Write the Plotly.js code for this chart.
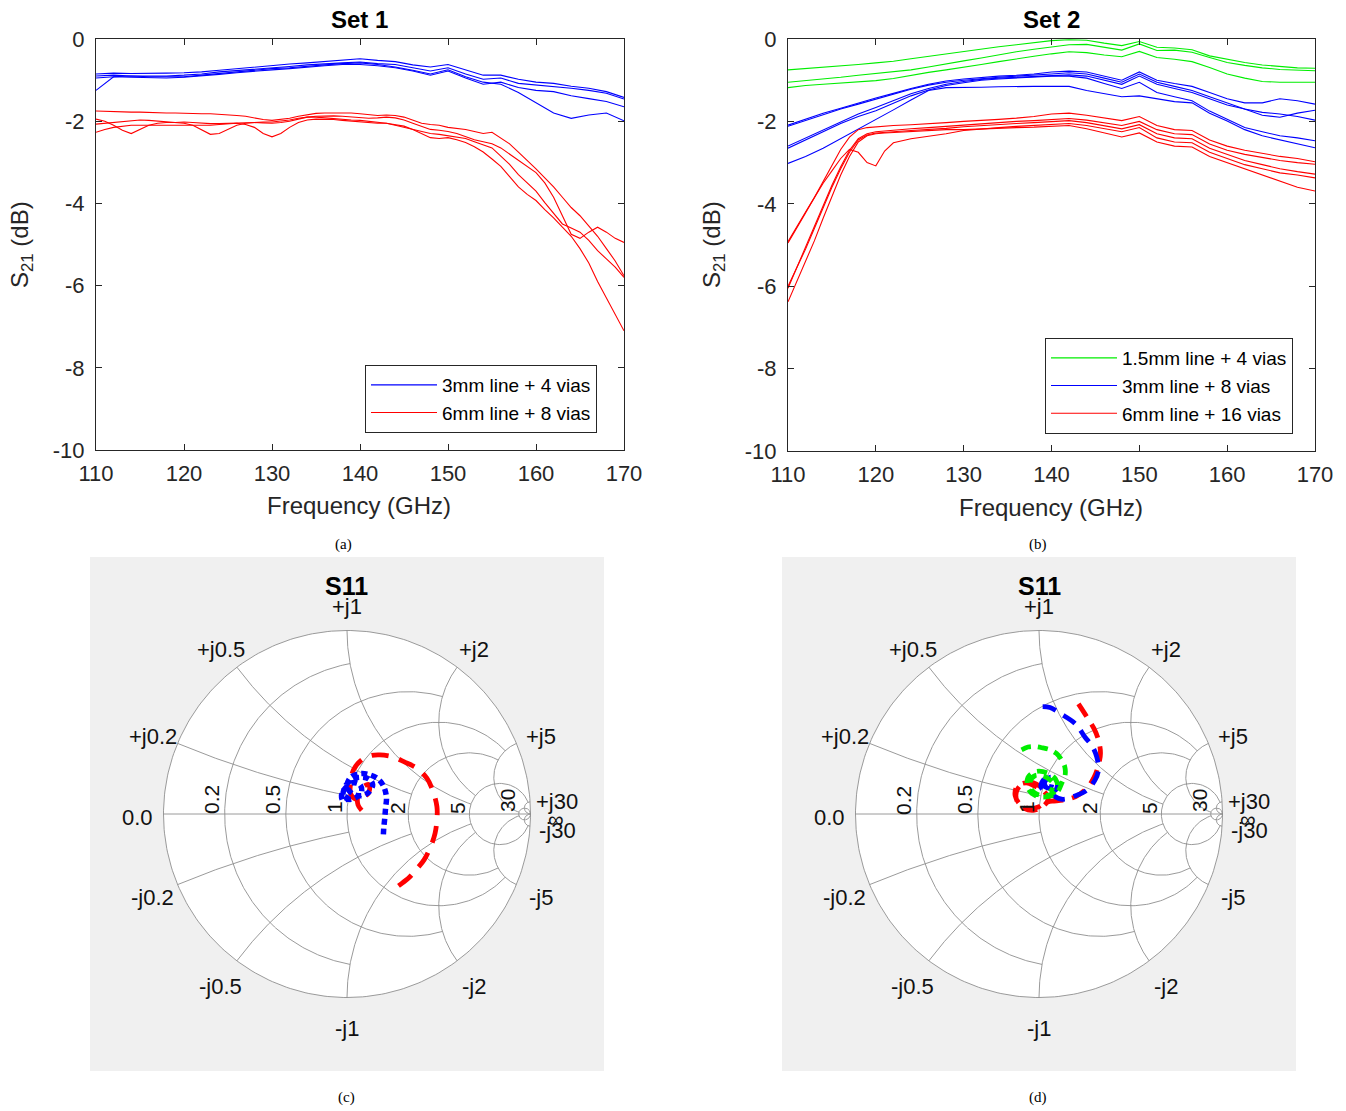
<!DOCTYPE html>
<html><head><meta charset="utf-8">
<script src="https://cdn.plot.ly/plotly-3.0.1.min.js"></script>
<style>html,body{margin:0;padding:0;background:#fff}#chart{width:1346px;height:1111px}</style>
</head><body><div id="chart"></div>
<script>
// ---------------- DATA ----------------
const freq1 = [110,111,112,113,114,115,116,117,118,119,120,121,122,123,124,125,126,127,128,129,130,131,132,133,134,135,136,137,138,139,140,141,142,143,144,145,146,147,148,149,150,151,152,153,154,155,156,157,158,159,160,161,162,163,164,165,166,167,168,169,170];
const freq2 = [110,112,114,116,118,120,122,124,126,128,130,132,134,136,138,140,142,144,146,148,150,152,154,156,158,160,162,164,166,168,170];
const freqR2 = [110,111,112,113,114,115,116,117,118,119,120,121,122,124,126,128,130,132,134,136,138,140,142,144,146,148,150,152,154,156,158,160,162,164,166,168,170];

const xTickVals = [110,120,130,140,150,160,170];
const xTickText = ['110','120','130','140','150','160','170'];
const yTickVals = [0,-2,-4,-6,-8,-10];
const yTickText = ['0','-2','-4','-6','-8','-10'];

const set1Names = ['3mm line + 4 vias','6mm line + 8 vias'];
const set2Names = ['1.5mm line + 4 vias','3mm line + 8 vias','6mm line + 16 vias'];

// Set 1, 3mm line + 4 vias (freq2)
const set1Blue = [
 [-0.85,-0.83,-0.84,-0.84,-0.83,-0.82,-0.80,-0.76,-0.72,-0.68,-0.64,-0.61,-0.58,-0.55,-0.52,-0.48,-0.52,-0.55,-0.63,-0.68,-0.62,-0.75,-0.88,-0.88,-0.98,-1.05,-1.08,-1.15,-1.20,-1.28,-1.42],
 [-0.90,-0.88,-0.90,-0.90,-0.90,-0.88,-0.85,-0.80,-0.77,-0.73,-0.70,-0.67,-0.63,-0.60,-0.58,-0.56,-0.60,-0.62,-0.70,-0.78,-0.70,-0.85,-0.98,-0.95,-1.08,-1.12,-1.15,-1.20,-1.25,-1.32,-1.46],
 [-0.95,-0.92,-0.93,-0.94,-0.95,-0.93,-0.90,-0.86,-0.82,-0.78,-0.75,-0.72,-0.68,-0.65,-0.62,-0.62,-0.65,-0.70,-0.78,-0.88,-0.78,-0.95,-1.10,-1.05,-1.18,-1.25,-1.28,-1.38,-1.45,-1.52,-1.65],
 [-1.25,-0.92,-0.90,-0.92,-0.92,-0.92,-0.88,-0.84,-0.80,-0.76,-0.72,-0.70,-0.66,-0.63,-0.60,-0.58,-0.62,-0.68,-0.76,-0.85,-0.75,-0.92,-1.05,-1.10,-1.30,-1.55,-1.80,-1.93,-1.85,-1.80,-1.99]
];
// Set 1, 6mm line + 8 vias (freq1)
const set1Red = [
 [-1.75,-1.76,-1.77,-1.77,-1.78,-1.78,-1.79,-1.79,-1.80,-1.80,-1.81,
  -1.81,-1.82,-1.82,-1.83,-1.84,-1.86,-1.88,-1.92,-1.96,-1.98,
  -1.96,-1.93,-1.88,-1.84,-1.81,-1.80,-1.80,-1.80,-1.80,-1.82,
  -1.84,-1.86,-1.85,-1.86,-1.90,-1.98,-2.05,-2.08,-2.10,-2.15,
  -2.18,-2.20,-2.25,-2.30,-2.27,-2.40,-2.55,-2.75,-2.95,-3.16,
  -3.38,-3.60,-3.85,-4.10,-4.30,-4.55,-4.80,-5.10,-5.40,-5.76],
 [-1.95,-2.00,-2.10,-2.22,-2.30,-2.20,-2.10,-2.05,-2.03,-2.03,-2.02,
  -2.03,-2.05,-2.06,-2.06,-2.05,-2.04,-2.03,-2.03,-2.04,-2.05,
  -2.03,-2.00,-1.95,-1.90,-1.88,-1.87,-1.87,-1.88,-1.90,-1.92,
  -1.93,-1.92,-1.90,-1.92,-1.97,-2.05,-2.12,-2.20,-2.22,-2.25,
  -2.30,-2.38,-2.45,-2.50,-2.55,-2.65,-2.80,-2.95,-3.10,-3.25,
  -3.50,-3.85,-4.30,-4.75,-4.85,-4.70,-4.58,-4.70,-4.85,-4.95],
 [-2.07,-2.05,-2.02,-2.00,-1.98,-1.97,-1.98,-2.00,-2.02,-2.03,-2.05,
  -2.10,-2.20,-2.32,-2.30,-2.20,-2.10,-2.05,-2.03,-2.02,-2.02,
  -2.00,-1.97,-1.93,-1.90,-1.90,-1.92,-1.93,-1.95,-1.97,-1.98,
  -2.00,-2.02,-2.05,-2.10,-2.15,-2.20,-2.25,-2.30,-2.32,-2.35,
  -2.38,-2.42,-2.50,-2.58,-2.65,-2.85,-3.05,-3.30,-3.50,-3.70,
  -3.98,-4.25,-4.50,-4.60,-4.70,-4.90,-5.15,-5.35,-5.55,-5.80],
 [-2.27,-2.20,-2.15,-2.12,-2.10,-2.10,-2.10,-2.10,-2.10,-2.10,-2.10,
  -2.10,-2.10,-2.10,-2.08,-2.06,-2.05,-2.08,-2.15,-2.30,-2.38,
  -2.30,-2.15,-2.03,-1.97,-1.95,-1.95,-1.96,-1.98,-2.00,-2.02,
  -2.03,-2.05,-2.05,-2.08,-2.12,-2.20,-2.30,-2.40,-2.42,-2.40,
  -2.45,-2.52,-2.62,-2.75,-2.92,-3.10,-3.35,-3.60,-3.78,-3.93,
  -4.15,-4.35,-4.58,-4.80,-5.10,-5.45,-5.90,-6.30,-6.70,-7.10]
];
// Set 2 (freq2)
const set2Green = [
 [-0.75,-0.72,-0.69,-0.66,-0.62,-0.58,-0.54,-0.48,-0.42,-0.36,-0.30,-0.25,-0.19,-0.14,-0.09,-0.04,-0.02,-0.03,-0.10,-0.16,-0.06,-0.20,-0.22,-0.26,-0.41,-0.49,-0.57,-0.63,-0.67,-0.70,-0.71],
 [-1.05,-1.01,-0.98,-0.93,-0.88,-0.84,-0.80,-0.75,-0.68,-0.60,-0.53,-0.46,-0.38,-0.31,-0.25,-0.20,-0.14,-0.13,-0.20,-0.27,-0.12,-0.28,-0.27,-0.32,-0.45,-0.57,-0.64,-0.70,-0.74,-0.76,-0.77],
 [-1.18,-1.13,-1.10,-1.07,-1.04,-1.01,-0.96,-0.88,-0.81,-0.75,-0.69,-0.62,-0.55,-0.48,-0.42,-0.36,-0.31,-0.33,-0.39,-0.43,-0.30,-0.45,-0.49,-0.55,-0.69,-0.85,-0.95,-1.03,-1.05,-1.05,-1.05]
];
const set2Blue = [
 [-2.09,-1.95,-1.80,-1.68,-1.55,-1.43,-1.32,-1.20,-1.10,-1.02,-0.97,-0.93,-0.90,-0.88,-0.85,-0.80,-0.78,-0.80,-0.90,-1.00,-0.80,-1.00,-1.08,-1.15,-1.30,-1.45,-1.55,-1.55,-1.45,-1.50,-1.58],
 [-2.12,-1.98,-1.83,-1.70,-1.58,-1.46,-1.35,-1.22,-1.12,-1.05,-1.00,-0.96,-0.93,-0.90,-0.88,-0.85,-0.82,-0.85,-0.95,-1.05,-0.85,-1.05,-1.15,-1.25,-1.40,-1.55,-1.70,-1.85,-1.90,-1.80,-1.73],
 [-2.60,-2.40,-2.20,-2.00,-1.82,-1.66,-1.50,-1.33,-1.20,-1.10,-1.03,-0.98,-0.95,-0.93,-0.90,-0.88,-0.87,-0.90,-1.00,-1.10,-0.90,-1.10,-1.20,-1.30,-1.45,-1.60,-1.70,-1.78,-1.82,-1.88,-1.97],
 [-2.65,-2.45,-2.25,-2.05,-1.88,-1.74,-1.56,-1.38,-1.24,-1.13,-1.06,-1.00,-0.97,-0.95,-0.93,-0.90,-0.90,-0.95,-1.08,-1.20,-1.05,-1.30,-1.40,-1.50,-1.75,-1.95,-2.15,-2.25,-2.35,-2.40,-2.47],
 [-3.02,-2.85,-2.65,-2.42,-2.20,-1.97,-1.72,-1.48,-1.25,-1.18,-1.18,-1.17,-1.16,-1.15,-1.15,-1.15,-1.15,-1.25,-1.32,-1.40,-1.38,-1.45,-1.52,-1.55,-1.80,-1.99,-2.20,-2.35,-2.45,-2.55,-2.64]
];
// Set 2, 6mm line + 16 vias (freqR2)
const set2Red = [
 [-4.95,-4.60,-4.22,-3.85,-3.45,-3.05,-2.68,-2.38,-2.20,-2.15,-2.13,-2.12,-2.10,
  -2.08,-2.06,-2.03,-2.00,-1.98,-1.95,-1.92,-1.88,-1.82,-1.80,-1.85,-1.92,-1.98,-1.88,-2.10,-2.20,-2.22,-2.45,-2.60,-2.70,-2.78,-2.85,-2.90,-2.98],
 [-4.92,-4.55,-4.20,-3.85,-3.50,-3.20,-2.90,-2.68,-2.75,-3.00,-3.08,-2.72,-2.52,
  -2.42,-2.36,-2.30,-2.22,-2.18,-2.15,-2.12,-2.10,-2.08,-2.05,-2.10,-2.18,-2.25,-2.15,-2.40,-2.50,-2.52,-2.75,-2.90,-3.05,-3.15,-3.25,-3.30,-3.37],
 [-6.00,-5.55,-5.10,-4.60,-4.10,-3.60,-3.15,-2.75,-2.45,-2.33,-2.28,-2.26,-2.25,
  -2.22,-2.20,-2.17,-2.13,-2.10,-2.08,-2.05,-2.03,-2.00,-1.98,-2.03,-2.10,-2.18,-2.08,-2.30,-2.40,-2.42,-2.65,-2.80,-2.95,-3.05,-3.15,-3.22,-3.28],
 [-6.05,-5.55,-5.05,-4.55,-4.05,-3.55,-3.10,-2.70,-2.42,-2.30,-2.25,-2.23,-2.22,
  -2.18,-2.15,-2.12,-2.08,-2.05,-2.03,-2.00,-1.98,-1.95,-1.93,-1.97,-2.03,-2.10,-2.00,-2.20,-2.30,-2.32,-2.55,-2.70,-2.80,-2.88,-2.95,-3.00,-3.04],
 [-6.38,-5.90,-5.40,-4.90,-4.35,-3.80,-3.30,-2.85,-2.50,-2.35,-2.30,-2.28,-2.27,
  -2.25,-2.23,-2.20,-2.20,-2.18,-2.16,-2.15,-2.14,-2.12,-2.10,-2.18,-2.28,-2.38,-2.28,-2.50,-2.60,-2.62,-2.85,-3.00,-3.15,-3.30,-3.45,-3.60,-3.69]
];

// S11 reflection coefficient (Gamma real / imag)
const s11cRedRe  = [0.08,0.06,0.06,0.09,0.12,0.12,0.09,0.05,0.02,0.02,0.035,0.08,0.13,0.18,0.253,0.31,0.38,0.435,0.47,0.49,0.49,0.48,0.455,0.42,0.38,0.34,0.29,0.244];
const s11cRedIm  = [0.02,0.05,0.10,0.15,0.16,0.12,0.09,0.08,0.11,0.17,0.24,0.295,0.318,0.322,0.31,0.285,0.25,0.195,0.12,0.04,-0.03,-0.105,-0.18,-0.25,-0.30,-0.345,-0.385,-0.418];
const s11cBlueRe = [0.01,-0.02,-0.03,-0.01,0.03,0.07,0.08,0.05,0.01,-0.02,-0.01,0.03,0.08,0.12,0.14,0.12,0.08,0.03,0.00,0.02,0.07,0.12,0.17,0.20,0.215,0.21,0.205,0.20,0.198];
const s11cBlueIm = [0.10,0.07,0.10,0.14,0.17,0.16,0.12,0.09,0.08,0.10,0.15,0.19,0.20,0.19,0.16,0.12,0.10,0.11,0.15,0.20,0.22,0.215,0.19,0.15,0.09,0.03,-0.03,-0.08,-0.12];

const s11dBlueRe = [0.02,0.06,0.12,0.20,0.25,0.29,0.315,0.324,0.305,0.26,0.20,0.13,0.08,0.05,0.03,0.06,0.10,0.09,0.04,0.01,0.03,0.07,0.06,0.03];
const s11dBlueIm = [0.585,0.58,0.545,0.49,0.42,0.37,0.31,0.24,0.185,0.13,0.10,0.08,0.10,0.13,0.17,0.20,0.18,0.13,0.12,0.15,0.19,0.18,0.14,0.15];
const s11dRedRe  = [0.215,0.26,0.30,0.325,0.335,0.325,0.30,0.26,0.20,0.13,0.07,0.03,0.00,-0.05,-0.10,-0.13,-0.12,-0.07,-0.02,0.03,0.05,0.02,-0.03,-0.08,-0.12,-0.12,-0.08,-0.03,0.02];
const s11dRedIm  = [0.60,0.53,0.465,0.40,0.33,0.27,0.20,0.14,0.095,0.075,0.07,0.06,0.04,0.03,0.05,0.10,0.15,0.17,0.15,0.12,0.08,0.04,0.02,0.03,0.07,0.13,0.17,0.17,0.14];
const s11dGreenRe = [-0.095,-0.06,-0.03,0.02,0.06,0.095,0.12,0.14,0.142,0.125,0.10,0.05,-0.02,-0.06,-0.06,-0.015,0.05,0.09,0.10,0.07,0.02,-0.03,-0.05,-0.02,0.04,0.08,0.06];
const s11dGreenIm = [0.35,0.365,0.368,0.36,0.35,0.33,0.30,0.26,0.21,0.17,0.12,0.095,0.10,0.14,0.20,0.232,0.222,0.19,0.15,0.11,0.10,0.12,0.17,0.21,0.20,0.16,0.12];

// Smith grid values and where each circle/arc stops
const smithGridValues = [0.2,0.5,1,2,5,30];
const smithGridEnds   = [1,2,5,5,30,Infinity];

// ---------------- LAYOUT HELPERS ----------------
const W = 1346, H = 1111;
const px = x => x / W, py = y => 1 - y / H;
const FONT = 'Liberation Sans, Arial, sans-serif';
const AXC = '#262626';
const BLUE = '#0000ff', RED = '#ff0000', GREEN = '#00ee00';

const traces = [];
function addGroup(x, ys, color, name, xa, ya, legend) {
  ys.forEach((y, i) => traces.push({
    type: 'scatter', mode: 'lines', x: x, y: y, xaxis: xa, yaxis: ya,
    line: {color: color, width: 1.1}, name: name, legend: legend,
    showlegend: i === 0, hoverinfo: 'skip'
  }));
}
addGroup(freq2, set1Blue, BLUE, set1Names[0], 'x', 'y', 'legend');
addGroup(freq1, set1Red, RED, set1Names[1], 'x', 'y', 'legend');
addGroup(freq2, set2Green, GREEN, set2Names[0], 'x2', 'y2', 'legend2');
addGroup(freq2, set2Blue, BLUE, set2Names[1], 'x2', 'y2', 'legend2');
addGroup(freqR2, set2Red, RED, set2Names[2], 'x2', 'y2', 'legend2');

// Smith chart grid (chart furniture)
function gam(r, x) {
  const a = r - 1, c = r + 1, den = c * c + x * x;
  return [(a * c + x * x) / den, (x * c - a * x) / den];
}
function smithGrid() {
  const xs = [], ys = [];
  const push = (p) => { xs.push(p[0]); ys.push(p[1]); };
  const brk = () => { xs.push(null); ys.push(null); };
  const N = 300;
  for (let i = 0; i <= N; i++) { const t = 2 * Math.PI * i / N; push([Math.cos(t), Math.sin(t)]); }
  brk();
  push([-1, 0]); push([1, 0]); brk();
  smithGridValues.forEach((v, k) => {
    const e = smithGridEnds[k];
    if (e === Infinity) {
      const cx = v / (1 + v), R = 1 / (1 + v);
      for (let i = 0; i <= N; i++) { const t = 2 * Math.PI * i / N; push([cx + R * Math.cos(t), R * Math.sin(t)]); }
    } else {
      const tm = Math.atan(e);
      for (let i = 0; i <= N; i++) { const t = -tm + 2 * tm * i / N; push(gam(v, Math.tan(t))); }
    }
    brk();
    [1, -1].forEach(s => {
      const tm = e === Infinity ? Math.PI / 2 * 0.99999 : Math.atan(e);
      for (let i = 0; i <= N; i++) { const t = tm * i / N; push(gam(Math.tan(t), s * v)); }
      brk();
    });
  });
  return [xs, ys];
}
const [gx, gy] = smithGrid();
['3', '4'].forEach(k => traces.push({
  type: 'scatter', mode: 'lines', x: gx, y: gy, xaxis: 'x' + k, yaxis: 'y' + k,
  line: {color: '#8f8f8f', width: 0.9}, showlegend: false, hoverinfo: 'skip', connectgaps: false
}));
function smithTrace(re, im, color, dash, k, width) {
  traces.push({
    type: 'scatter', mode: 'lines', x: re, y: im, xaxis: 'x' + k, yaxis: 'y' + k,
    line: {color: color, width: width, dash: dash, shape: 'spline', smoothing: 1},
    showlegend: false, hoverinfo: 'skip'
  });
}
smithTrace(s11cRedRe, s11cRedIm, RED, '17px,11px', '3', 4.8);
smithTrace(s11cBlueRe, s11cBlueIm, BLUE, '6px,4px', '3', 5.5);
smithTrace(s11dRedRe, s11dRedIm, RED, '15px,9px', '4', 4.8);
smithTrace(s11dBlueRe, s11dBlueIm, BLUE, '14px,9px', '4', 4.8);
smithTrace(s11dGreenRe, s11dGreenIm, GREEN, '10px,7px', '4', 4.8);

// ---------------- AXES ----------------
const axCommon = {
  showline: true, linecolor: AXC, linewidth: 1, mirror: 'ticks', ticks: 'inside',
  ticklen: 6, tickcolor: AXC, tickwidth: 1, showgrid: false, zeroline: false,
  tickfont: {family: FONT, size: 22, color: AXC}, fixedrange: true, tickmode: 'array'
};
const smithAx = {showgrid: false, zeroline: false, showticklabels: false, showline: false, ticks: '', fixedrange: true, range: [-1.4005, 1.4005]};

const ann = [];
function txt(x, y, text, o) {
  ann.push(Object.assign({
    xref: 'paper', yref: 'paper', x: px(x), y: py(y), text: text, showarrow: false,
    xanchor: 'center', yanchor: 'middle', font: {family: FONT, size: 20, color: '#000'}
  }, o || {}));
}
txt(359, 19, '<b>Set 1</b>', {font: {family: FONT, size: 24, color: '#000'}});
txt(1051, 19, '<b>Set 2</b>', {font: {family: FONT, size: 24, color: '#000'}});
txt(359, 505, 'Frequency (GHz)', {font: {family: FONT, size: 24, color: AXC}});
txt(1051, 507, 'Frequency (GHz)', {font: {family: FONT, size: 24, color: AXC}});
txt(22, 245, 'S<sub>21</sub> (dB)', {textangle: -90, font: {family: FONT, size: 24, color: AXC}});
txt(714, 245, 'S<sub>21</sub> (dB)', {textangle: -90, font: {family: FONT, size: 24, color: AXC}});
const serif = {family: 'Liberation Serif, Times New Roman, serif', size: 15, color: '#000'};
txt(343, 544, '(a)', {font: serif});
txt(1038, 544, '(b)', {font: serif});
txt(347, 1097, '(c)', {font: serif});
txt(1038, 1097, '(d)', {font: serif});
const smithLabels = [
  ['+j1', 0, -208], ['+j0.5', -126, -165], ['+j2', 127, -165], ['+j0.2', -194, -78], ['+j5', 194, -78],
  ['+j30', 210, -12], ['\u221e', 209, 5], ['-j30', 210, 16], ['0.0', -210, 3], ['-j0.2', -195, 83],
  ['-j5', 194, 83], ['-j0.5', -127, 172], ['-j2', 127, 172], ['-j1', 0, 214]
];
const smithRLabels = [['0.2', -136, -14], ['0.5', -75, -14], ['1', -13, -7], ['2', 50, -6], ['5', 110, -6], ['30', 160, -13]];
[[347, 814], [1039, 814]].forEach(([cx, cy]) => {
  txt(cx, cy - 228, '<b>S11</b>', {font: {family: FONT, size: 25, color: '#000'}});
  smithLabels.forEach(([t, dx, dy]) => txt(cx + dx, cy + dy, t, {font: {family: FONT, size: 22, color: '#111'}}));
  smithRLabels.forEach(([t, dx, dy]) => txt(cx + dx, cy + dy, t, {textangle: -90, font: {family: FONT, size: 21, color: '#111'}}));
});

const shapes = [
  {type: 'rect', xref: 'paper', yref: 'paper', x0: px(90), x1: px(604), y0: py(1071), y1: py(557), fillcolor: '#f0f0f0', line: {width: 0}, layer: 'below'},
  {type: 'rect', xref: 'paper', yref: 'paper', x0: px(782), x1: px(1296), y0: py(1071), y1: py(557), fillcolor: '#f0f0f0', line: {width: 0}, layer: 'below'},
  {type: 'circle', xref: 'x3', yref: 'y3', x0: -1, x1: 1, y0: -1, y1: 1, fillcolor: '#ffffff', line: {width: 0}, layer: 'below'},
  {type: 'circle', xref: 'x4', yref: 'y4', x0: -1, x1: 1, y0: -1, y1: 1, fillcolor: '#ffffff', line: {width: 0}, layer: 'below'}
];

const legendCommon = {
  xanchor: 'left', yanchor: 'top', bgcolor: '#ffffff', bordercolor: AXC, borderwidth: 1,
  font: {family: FONT, size: 19, color: '#000'}, itemwidth: 66, tracegroupgap: 0
};

const layout = {
  width: W, height: H, margin: {l: 0, r: 0, t: 0, b: 0},
  paper_bgcolor: '#ffffff', plot_bgcolor: 'rgba(0,0,0,0)', showlegend: true,
  xaxis: Object.assign({}, axCommon, {domain: [px(96), px(624)], range: [110, 170], tickvals: xTickVals, ticktext: xTickText, anchor: 'y', ticklabelstandoff: 4}),
  yaxis: Object.assign({}, axCommon, {domain: [py(450), py(39)], range: [-10, 0], tickvals: yTickVals, ticktext: yTickText, anchor: 'x', ticklabelstandoff: 6}),
  xaxis2: Object.assign({}, axCommon, {domain: [px(788), px(1315)], range: [110, 170], tickvals: xTickVals, ticktext: xTickText, anchor: 'y2', ticklabelstandoff: 4}),
  yaxis2: Object.assign({}, axCommon, {domain: [py(451), py(39)], range: [-10, 0], tickvals: yTickVals, ticktext: yTickText, anchor: 'x2', ticklabelstandoff: 6}),
  xaxis3: Object.assign({}, smithAx, {domain: [px(90), px(604)], anchor: 'y3'}),
  yaxis3: Object.assign({}, smithAx, {domain: [py(1071), py(557)], anchor: 'x3'}),
  xaxis4: Object.assign({}, smithAx, {domain: [px(782), px(1296)], anchor: 'y4'}),
  yaxis4: Object.assign({}, smithAx, {domain: [py(1071), py(557)], anchor: 'x4'}),
  legend: Object.assign({}, legendCommon, {x: px(365), y: py(365)}),
  legend2: Object.assign({}, legendCommon, {x: px(1045), y: py(338)}),
  annotations: ann, shapes: shapes
};

Plotly.newPlot('chart', traces, layout, {staticPlot: true, displayModeBar: false});
</script>
</body></html>
